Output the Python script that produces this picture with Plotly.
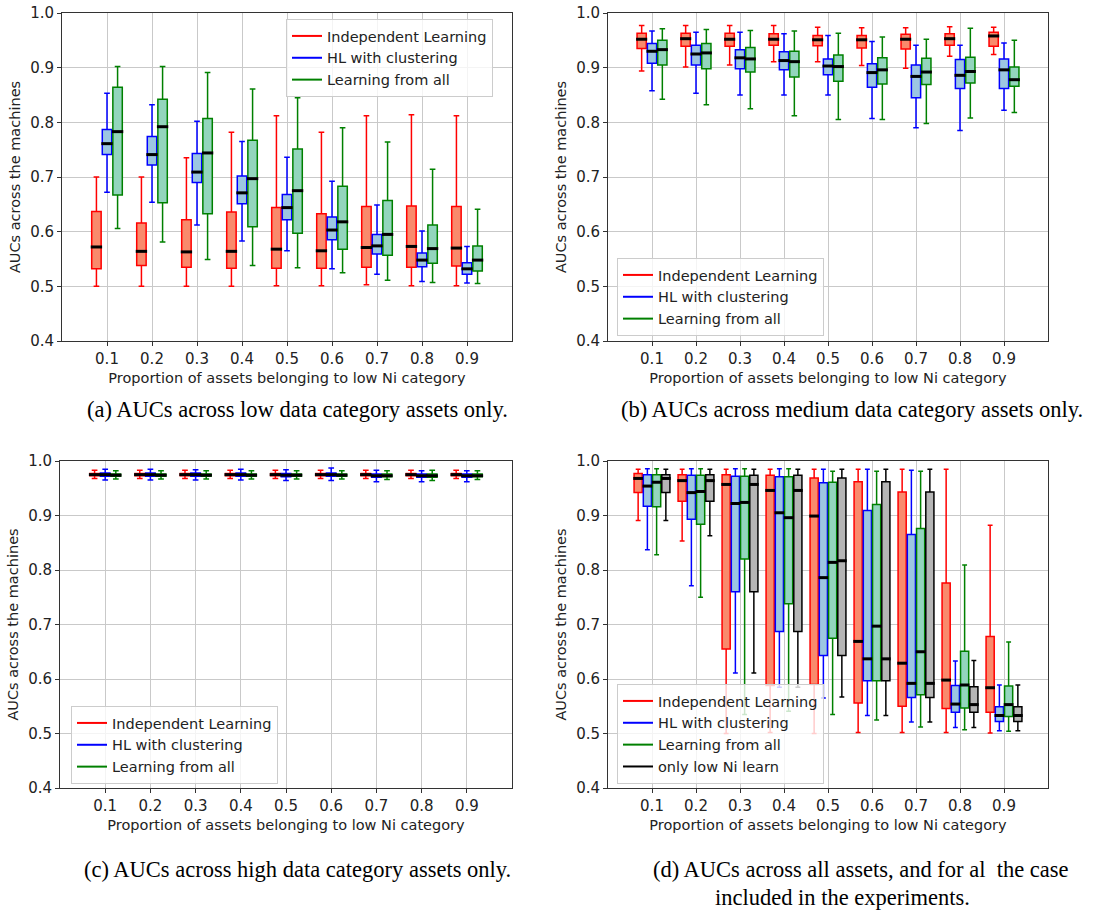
import plotly.graph_objects as go

# ---------------- data ----------------
proportions = [0.1, 0.2, 0.3, 0.4, 0.5, 0.6, 0.7, 0.8, 0.9]
x_tick_labels = ["0.1", "0.2", "0.3", "0.4", "0.5", "0.6", "0.7", "0.8", "0.9"]
y_ticks = [0.4, 0.5, 0.6, 0.7, 0.8, 0.9, 1.0]
y_tick_labels = ["0.4", "0.5", "0.6", "0.7", "0.8", "0.9", "1.0"]

series_names = ["Independent Learning", "HL with clustering", "Learning from all", "only low Ni learn"]

# each tuple: (lower whisker, q1, median, q3, upper whisker)
# (a) low data category assets
a_independent = [(0.500, 0.532, 0.572, 0.637, 0.700), (0.500, 0.538, 0.564, 0.616, 0.700),
                 (0.500, 0.535, 0.563, 0.622, 0.735), (0.500, 0.533, 0.564, 0.636, 0.782),
                 (0.501, 0.533, 0.568, 0.644, 0.812), (0.501, 0.533, 0.565, 0.633, 0.782),
                 (0.503, 0.535, 0.571, 0.646, 0.812), (0.501, 0.535, 0.573, 0.647, 0.814),
                 (0.501, 0.537, 0.570, 0.646, 0.812)]
a_hl_cluster = [(0.672, 0.741, 0.761, 0.787, 0.853), (0.654, 0.722, 0.741, 0.774, 0.832),
                (0.612, 0.690, 0.709, 0.743, 0.802), (0.583, 0.651, 0.671, 0.702, 0.765),
                (0.565, 0.622, 0.644, 0.668, 0.736), (0.532, 0.585, 0.603, 0.627, 0.692),
                (0.522, 0.559, 0.574, 0.595, 0.649), (0.509, 0.536, 0.548, 0.561, 0.601),
                (0.506, 0.522, 0.532, 0.543, 0.573)]
a_from_all = [(0.606, 0.667, 0.783, 0.864, 0.902), (0.581, 0.653, 0.792, 0.842, 0.902),
              (0.549, 0.633, 0.744, 0.807, 0.891), (0.538, 0.609, 0.697, 0.767, 0.861),
              (0.534, 0.597, 0.675, 0.751, 0.845), (0.525, 0.568, 0.618, 0.683, 0.790),
              (0.511, 0.557, 0.595, 0.657, 0.764), (0.507, 0.542, 0.569, 0.612, 0.714),
              (0.505, 0.528, 0.548, 0.574, 0.641)]

# (b) medium data category assets
b_independent = [(0.894, 0.935, 0.952, 0.963, 0.977), (0.901, 0.939, 0.953, 0.963, 0.977),
                 (0.905, 0.939, 0.952, 0.963, 0.977), (0.911, 0.941, 0.952, 0.962, 0.977),
                 (0.911, 0.940, 0.951, 0.959, 0.974), (0.904, 0.936, 0.951, 0.959, 0.973),
                 (0.899, 0.934, 0.952, 0.961, 0.973), (0.921, 0.941, 0.953, 0.962, 0.975),
                 (0.924, 0.939, 0.958, 0.965, 0.974)]
b_hl_cluster = [(0.858, 0.908, 0.930, 0.944, 0.967), (0.853, 0.905, 0.925, 0.941, 0.965),
                (0.850, 0.898, 0.918, 0.933, 0.965), (0.850, 0.896, 0.913, 0.929, 0.962),
                (0.850, 0.887, 0.903, 0.916, 0.959), (0.807, 0.864, 0.891, 0.907, 0.948),
                (0.790, 0.845, 0.884, 0.905, 0.941), (0.785, 0.862, 0.886, 0.915, 0.941),
                (0.822, 0.862, 0.896, 0.916, 0.945)]
b_from_all = [(0.842, 0.905, 0.933, 0.950, 0.971), (0.832, 0.898, 0.927, 0.944, 0.970),
              (0.825, 0.892, 0.916, 0.937, 0.968), (0.812, 0.883, 0.911, 0.930, 0.967),
              (0.805, 0.875, 0.902, 0.923, 0.963), (0.805, 0.870, 0.896, 0.918, 0.956),
              (0.798, 0.869, 0.892, 0.917, 0.952), (0.808, 0.872, 0.893, 0.919, 0.972),
              (0.818, 0.866, 0.878, 0.901, 0.950)]

# (c) high data category assets
c_independent = [(0.968, 0.973, 0.975, 0.977, 0.983), (0.968, 0.973, 0.975, 0.977, 0.983),
                 (0.968, 0.973, 0.975, 0.977, 0.983), (0.968, 0.973, 0.975, 0.977, 0.983),
                 (0.968, 0.973, 0.975, 0.977, 0.983), (0.968, 0.973, 0.975, 0.977, 0.983),
                 (0.968, 0.973, 0.975, 0.977, 0.983), (0.968, 0.973, 0.975, 0.977, 0.983),
                 (0.968, 0.973, 0.975, 0.977, 0.983)]
c_hl_cluster = [(0.965, 0.972, 0.975, 0.978, 0.985), (0.965, 0.972, 0.975, 0.978, 0.985),
                (0.965, 0.972, 0.975, 0.978, 0.984), (0.965, 0.972, 0.975, 0.978, 0.985),
                (0.964, 0.971, 0.974, 0.977, 0.984), (0.964, 0.972, 0.975, 0.978, 0.987),
                (0.962, 0.970, 0.973, 0.976, 0.983), (0.962, 0.970, 0.973, 0.976, 0.982),
                (0.962, 0.970, 0.973, 0.976, 0.982)]
c_from_all = [(0.967, 0.972, 0.974, 0.976, 0.982), (0.967, 0.972, 0.974, 0.976, 0.982),
              (0.967, 0.972, 0.974, 0.976, 0.982), (0.967, 0.972, 0.974, 0.976, 0.982),
              (0.967, 0.972, 0.974, 0.976, 0.982), (0.967, 0.972, 0.974, 0.976, 0.982),
              (0.966, 0.971, 0.973, 0.976, 0.982), (0.964, 0.970, 0.973, 0.976, 0.983),
              (0.966, 0.971, 0.973, 0.976, 0.982)]

# (d) all assets
d_independent = [(0.891, 0.942, 0.968, 0.977, 0.985), (0.853, 0.926, 0.964, 0.975, 0.985),
                 (0.500, 0.655, 0.957, 0.975, 0.985), (0.502, 0.588, 0.946, 0.974, 0.985),
                 (0.500, 0.590, 0.899, 0.969, 0.985), (0.502, 0.556, 0.669, 0.962, 0.985),
                 (0.502, 0.550, 0.629, 0.943, 0.985), (0.502, 0.546, 0.598, 0.776, 0.985),
                 (0.501, 0.539, 0.584, 0.678, 0.882)]
d_hl_cluster = [(0.837, 0.917, 0.954, 0.975, 0.986), (0.771, 0.893, 0.942, 0.974, 0.986),
                (0.611, 0.760, 0.922, 0.972, 0.986), (0.585, 0.687, 0.905, 0.971, 0.986),
                (0.565, 0.643, 0.786, 0.960, 0.985), (0.533, 0.597, 0.637, 0.909, 0.985),
                (0.521, 0.566, 0.592, 0.865, 0.983), (0.511, 0.539, 0.554, 0.588, 0.633),
                (0.505, 0.522, 0.533, 0.549, 0.589)]
d_from_all = [(0.828, 0.916, 0.961, 0.975, 0.986), (0.750, 0.884, 0.944, 0.974, 0.986),
              (0.535, 0.820, 0.924, 0.972, 0.986), (0.541, 0.738, 0.896, 0.971, 0.986),
              (0.535, 0.675, 0.814, 0.961, 0.981), (0.525, 0.597, 0.697, 0.920, 0.981),
              (0.512, 0.571, 0.650, 0.876, 0.981), (0.507, 0.547, 0.589, 0.651, 0.809),
              (0.504, 0.531, 0.553, 0.587, 0.668)]
d_low_only = [(0.891, 0.942, 0.968, 0.975, 0.985), (0.863, 0.926, 0.964, 0.975, 0.985),
              (0.611, 0.760, 0.957, 0.974, 0.985), (0.585, 0.687, 0.946, 0.974, 0.985),
              (0.567, 0.643, 0.817, 0.969, 0.985), (0.533, 0.597, 0.637, 0.962, 0.985),
              (0.521, 0.566, 0.592, 0.943, 0.985), (0.511, 0.539, 0.553, 0.586, 0.634),
              (0.505, 0.522, 0.533, 0.549, 0.589)]

x_title = "Proportion of assets belonging to low Ni category"
y_title = "AUCs across the machines"
captions = ["(a) AUCs across low data category assets only.",
            "(b) AUCs across medium data category assets only.",
            "(c) AUCs across high data category assets only.",
            "(d) AUCs across all assets, and for al\u00a0 the case",
            "included in the experiments."]

# ---------------- style ----------------
W, H = 1097, 910
EDGE = ["#ff0000", "#0000ff", "#008000", "#000000"]
FILL = ["#f98a6c", "#9cc6e2", "#93d5bd", "#b5b5b5"]
SANS = "DejaVu Sans"
SERIF = "Liberation Serif"
TXT = "#222222"

# pixel frames (left, right, top, bottom)
frames = [(62, 512, 13, 341), (608, 1048, 13, 341), (60, 512, 461, 788), (608, 1048, 461, 788)]
legend_pos = [(286, 19), (617, 258), (71, 706), (617, 684)]

panels = [
    [a_independent, a_hl_cluster, a_from_all],
    [b_independent, b_hl_cluster, b_from_all],
    [c_independent, c_hl_cluster, c_from_all],
    [d_independent, d_hl_cluster, d_from_all, d_low_only],
]
offsets3, width3 = [-0.0235, 0.0, 0.0235], 0.021
offsets4, width4 = [-0.0315, -0.0105, 0.0105, 0.0315], 0.0185

fig = go.Figure()
layout = dict(width=W, height=H, margin=dict(l=0, r=0, t=0, b=0), autosize=False,
              plot_bgcolor="white", paper_bgcolor="white", boxmode="overlay",
              showlegend=True)

for i, series_list in enumerate(panels):
    sfx = "" if i == 0 else str(i + 1)
    xref, yref = "x" + sfx, "y" + sfx
    leg = "legend" + sfx
    if len(series_list) == 3:
        offs, bw = offsets3, width3
    else:
        offs, bw = offsets4, width4
    for k, (data, off) in enumerate(zip(series_list, offs)):
        lo = [d[0] for d in data]
        q1 = [d[1] for d in data]
        md = [d[2] for d in data]
        q3 = [d[3] for d in data]
        hi = [d[4] for d in data]
        pos = [p + off for p in proportions]
        fig.add_trace(go.Box(x=pos, q1=q1, median=md, q3=q3, lowerfence=lo, upperfence=hi,
                             width=bw, fillcolor=FILL[k], line=dict(color=EDGE[k], width=1.5),
                             whiskerwidth=0.6, boxpoints=False, showlegend=False,
                             hoverinfo="skip", xaxis=xref, yaxis=yref))
        mx, my = [], []
        for p, m in zip(pos, md):
            mx += [p - 0.6 * bw, p + 0.6 * bw, None]
            my += [m, m, None]
        fig.add_trace(go.Scatter(x=mx, y=my, mode="lines", line=dict(color="black", width=3),
                                 showlegend=False, hoverinfo="skip", xaxis=xref, yaxis=yref))
    for k in range(len(series_list)):
        fig.add_trace(go.Scatter(x=[None], y=[None], mode="lines", name=series_names[k],
                                 line=dict(color=EDGE[k], width=2), legend=leg,
                                 xaxis=xref, yaxis=yref))

    l, r, t, b = frames[i]
    layout["xaxis" + sfx] = dict(
        domain=[l / W, r / W], anchor=yref, range=[0, 1], tickmode="array",
        tickvals=proportions, ticktext=x_tick_labels, showgrid=True, gridcolor="#c9c9c9",
        gridwidth=1, zeroline=False, showline=True, linecolor="#333333", linewidth=1,
        mirror=True, ticks="outside", ticklen=4, tickcolor="#333333",
        tickfont=dict(family=SANS, size=15, color=TXT), automargin=False,
        title=dict(text=x_title, font=dict(family=SANS, size=14.5, color=TXT), standoff=5))
    layout["yaxis" + sfx] = dict(
        domain=[1 - b / H, 1 - t / H], anchor=xref, range=[0.4, 1.0], tickmode="array",
        tickvals=y_ticks, ticktext=y_tick_labels, showgrid=True, gridcolor="#c9c9c9",
        gridwidth=1, zeroline=False, showline=True, linecolor="#333333", linewidth=1,
        mirror=True, ticks="outside", ticklen=4, tickcolor="#333333",
        tickfont=dict(family=SANS, size=15, color=TXT), automargin=False,
        title=dict(text=y_title, font=dict(family=SANS, size=14.5, color=TXT), standoff=6))
    lx, ly = legend_pos[i]
    layout[leg] = dict(x=lx / W, y=1 - ly / H, xanchor="left", yanchor="top",
                       xref="paper", yref="paper",
                       bgcolor="rgba(255,255,255,0.8)", bordercolor="#cccccc", borderwidth=1,
                       font=dict(family=SANS, size=14.5, color=TXT), itemwidth=30)

cap_pos = [(297, 410), (852, 410), (297, 869), (861, 869), (842, 897)]
layout["annotations"] = [
    dict(text=c, x=cx / W, y=1 - cy / H, xref="paper", yref="paper", showarrow=False,
         xanchor="center", yanchor="middle", font=dict(family=SERIF, size=22.5, color="black"))
    for c, (cx, cy) in zip(captions, cap_pos)
]

fig.update_layout(**layout)
fig.write_html("out.html")
